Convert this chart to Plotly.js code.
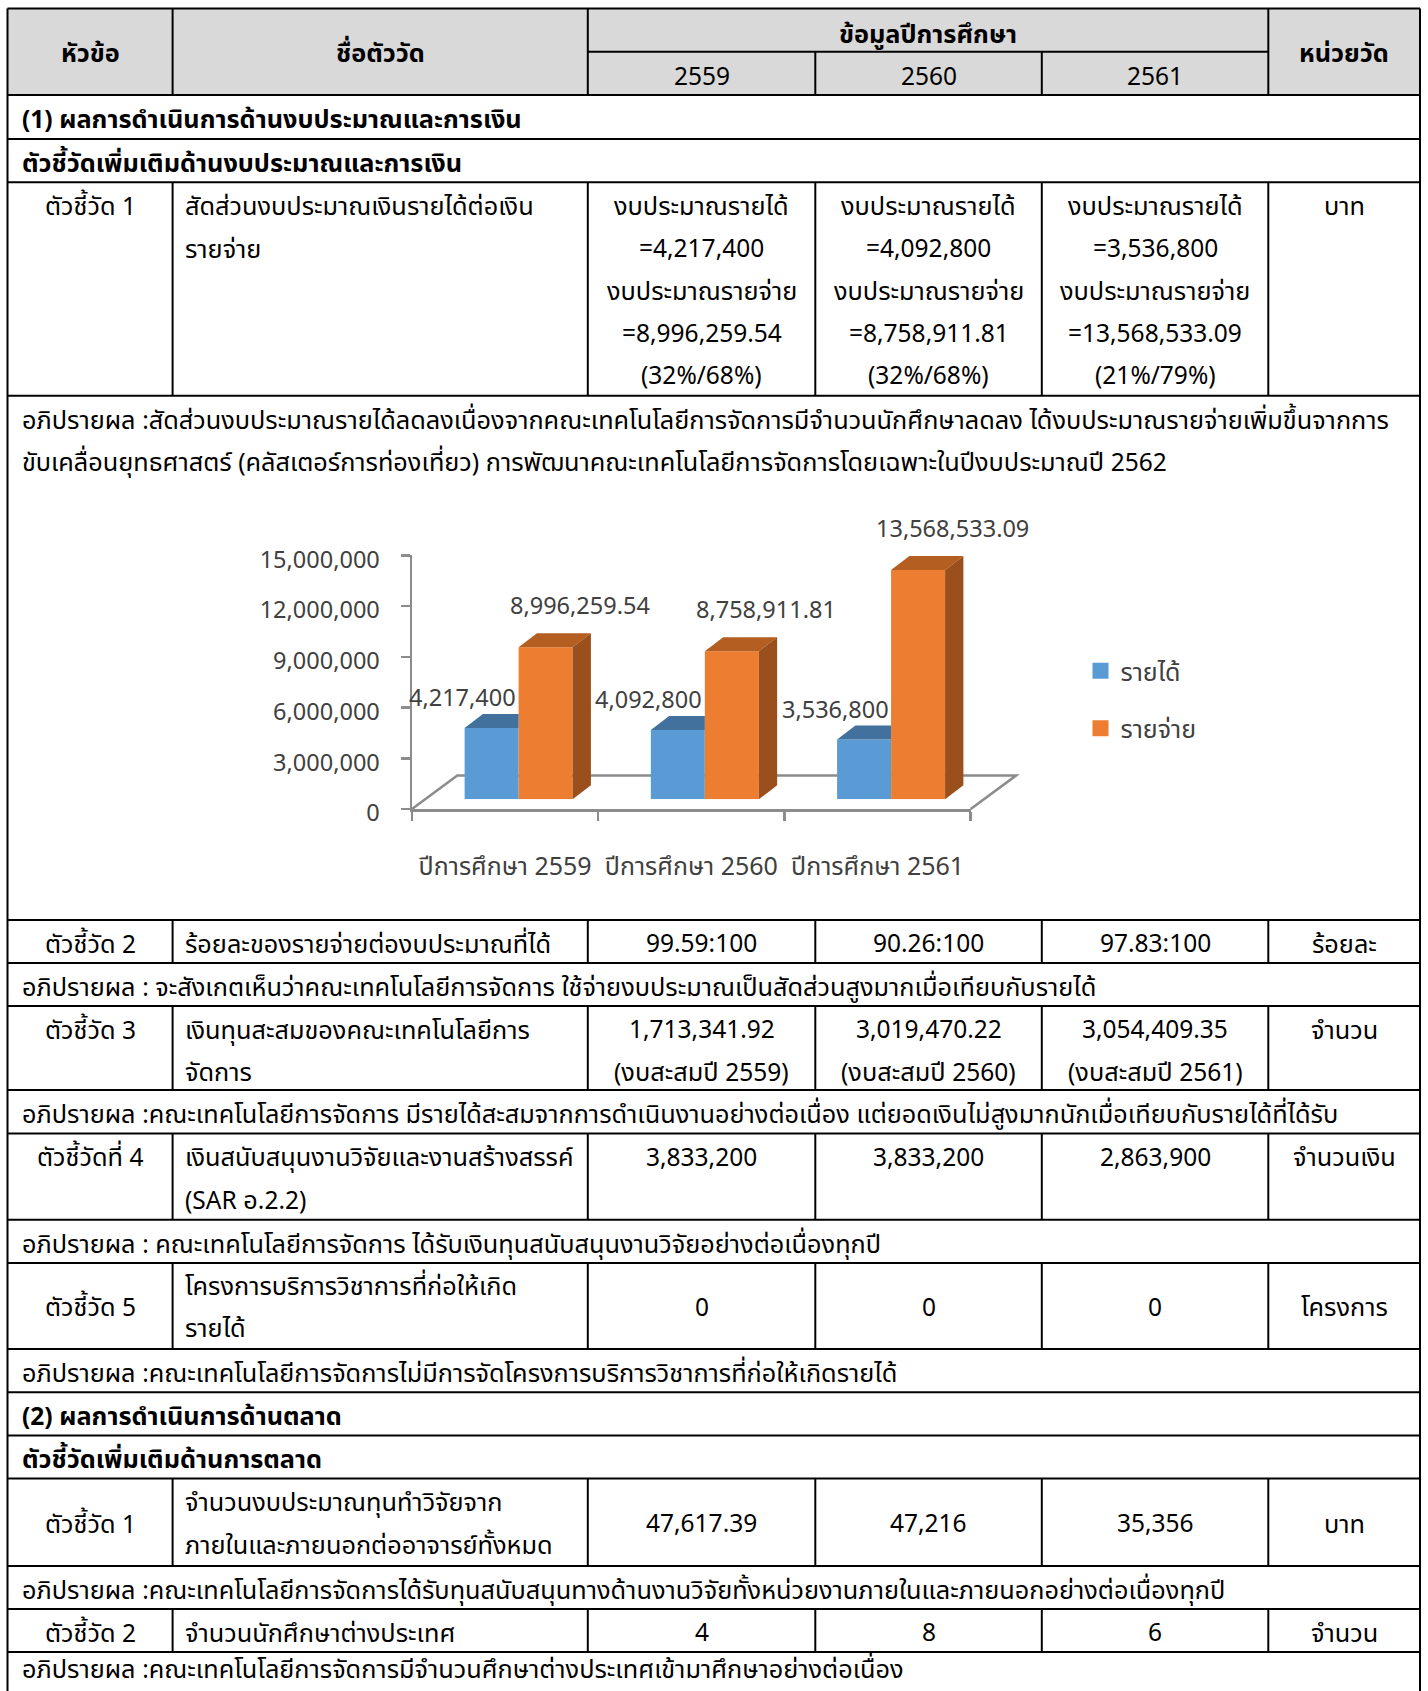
<!DOCTYPE html>
<html><head><meta charset="utf-8">
<script src="https://cdn.plot.ly/plotly-3.0.1.min.js"></script>
<style>html,body{margin:0;padding:0;background:#fff}#chart{width:1428px;height:1691px}</style>
</head><body><div id="chart"></div>
<script>
(function () {
// ================= DATA =================
const years = ['2559', '2560', '2561'];
const headerTopic = 'หัวข้อ';
const headerName = 'ชื่อตัววัด';
const headerYears = 'ข้อมูลปีการศึกษา';
const headerUnit = 'หน่วยวัด';

const section1Title = '(1) ผลการดำเนินการด้านงบประมาณและการเงิน';
const section1Sub = 'ตัวชี้วัดเพิ่มเติมด้านงบประมาณและการเงิน';
const section2Title = '(2) ผลการดำเนินการด้านตลาด';
const section2Sub = 'ตัวชี้วัดเพิ่มเติมด้านการตลาด';

const ind1Label = 'ตัวชี้วัด 1';
const ind1Name = ['สัดส่วนงบประมาณเงินรายได้ต่อเงิน', 'รายจ่าย'];
const ind1Values = [
  ['งบประมาณรายได้', '=4,217,400', 'งบประมาณรายจ่าย', '=8,996,259.54', '(32%/68%)'],
  ['งบประมาณรายได้', '=4,092,800', 'งบประมาณรายจ่าย', '=8,758,911.81', '(32%/68%)'],
  ['งบประมาณรายได้', '=3,536,800', 'งบประมาณรายจ่าย', '=13,568,533.09', '(21%/79%)']
];
const ind1Unit = 'บาท';
const disc1 = [
  'อภิปรายผล :สัดส่วนงบประมาณรายได้ลดลงเนื่องจากคณะเทคโนโลยีการจัดการมีจำนวนนักศึกษาลดลง ได้งบประมาณรายจ่ายเพิ่มขึ้นจากการ',
  'ขับเคลื่อนยุทธศาสตร์ (คลัสเตอร์การท่องเที่ยว) การพัฒนาคณะเทคโนโลยีการจัดการโดยเฉพาะในปีงบประมาณปี 2562'
];

const ind2Label = 'ตัวชี้วัด 2';
const ind2Name = ['ร้อยละของรายจ่ายต่องบประมาณที่ได้'];
const ind2Values = [['99.59:100'], ['90.26:100'], ['97.83:100']];
const ind2Unit = 'ร้อยละ';
const disc2 = ['อภิปรายผล : จะสังเกตเห็นว่าคณะเทคโนโลยีการจัดการ ใช้จ่ายงบประมาณเป็นสัดส่วนสูงมากเมื่อเทียบกับรายได้'];

const ind3Label = 'ตัวชี้วัด 3';
const ind3Name = ['เงินทุนสะสมของคณะเทคโนโลยีการ', 'จัดการ'];
const ind3Values = [['1,713,341.92', '(งบสะสมปี 2559)'], ['3,019,470.22', '(งบสะสมปี 2560)'], ['3,054,409.35', '(งบสะสมปี 2561)']];
const ind3Unit = 'จำนวน';
const disc3 = ['อภิปรายผล :คณะเทคโนโลยีการจัดการ มีรายได้สะสมจากการดำเนินงานอย่างต่อเนื่อง แต่ยอดเงินไม่สูงมากนักเมื่อเทียบกับรายได้ที่ได้รับ'];

const ind4Label = 'ตัวชี้วัดที่ 4';
const ind4Name = ['เงินสนับสนุนงานวิจัยและงานสร้างสรรค์', '(SAR อ.2.2)'];
const ind4Values = [['3,833,200'], ['3,833,200'], ['2,863,900']];
const ind4Unit = 'จำนวนเงิน';
const disc4 = ['อภิปรายผล : คณะเทคโนโลยีการจัดการ ได้รับเงินทุนสนับสนุนงานวิจัยอย่างต่อเนื่องทุกปี'];

const ind5Label = 'ตัวชี้วัด 5';
const ind5Name = ['โครงการบริการวิชาการที่ก่อให้เกิด', 'รายได้'];
const ind5Values = [['0'], ['0'], ['0']];
const ind5Unit = 'โครงการ';
const disc5 = ['อภิปรายผล :คณะเทคโนโลยีการจัดการไม่มีการจัดโครงการบริการวิชาการที่ก่อให้เกิดรายได้'];

const mkt1Label = 'ตัวชี้วัด 1';
const mkt1Name = ['จำนวนงบประมาณทุนทำวิจัยจาก', 'ภายในและภายนอกต่ออาจารย์ทั้งหมด'];
const mkt1Values = [['47,617.39'], ['47,216'], ['35,356']];
const mkt1Unit = 'บาท';
const disc6 = ['อภิปรายผล :คณะเทคโนโลยีการจัดการได้รับทุนสนับสนุนทางด้านงานวิจัยทั้งหน่วยงานภายในและภายนอกอย่างต่อเนื่องทุกปี'];

const mkt2Label = 'ตัวชี้วัด 2';
const mkt2Name = ['จำนวนนักศึกษาต่างประเทศ'];
const mkt2Values = [['4'], ['8'], ['6']];
const mkt2Unit = 'จำนวน';
const disc7 = ['อภิปรายผล :คณะเทคโนโลยีการจัดการมีจำนวนศึกษาต่างประเทศเข้ามาศึกษาอย่างต่อเนื่อง'];

// chart data
const chartCategories = ['ปีการศึกษา 2559', 'ปีการศึกษา 2560', 'ปีการศึกษา 2561'];
const seriesNames = ['รายได้', 'รายจ่าย'];
const incomeValues = [4217400, 4092800, 3536800];
const expenseValues = [8996259.54, 8758911.81, 13568533.09];
const yTickValues = [0, 3000000, 6000000, 9000000, 12000000, 15000000];

// ================= LAYOUT CONSTANTS =================
const W = 1428, H = 1691;
const FONT = '"Noto Sans Thai", "Noto Sans", sans-serif';
const FS = 25.3, FS_LAT = 24.5;
const XL = 7.5, XR = 1420, C1 = 172.6, C2 = 587.8, C3 = 815.3, C4 = 1041.8, C5 = 1268.3;
const TOP = 8.6, HDR_MID = 51.8, HDR_BOT = 94.9;
const PAD = 22.7, LH = 42.3, YOFF = 2.2;
const NAME_X = 183, FULL_X = 19.5;
const valCenters = [(C2 + C3) / 2, (C3 + C4) / 2, (C4 + C5) / 2];
const labelCenter = (XL + C1) / 2, unitCenter = (C5 + XR) / 2;

const shapes = [], ann = [];
const LINE = {color: '#000', width: 2};
function hline(y, x0, x1) { shapes.push({type: 'line', xref: 'x', yref: 'y', x0: x0 === undefined ? XL : x0, x1: x1 === undefined ? XR : x1, y0: y, y1: y, line: LINE, layer: 'above'}); }
function vline(x, y0, y1) { shapes.push({type: 'line', xref: 'x', yref: 'y', x0: x, x1: x, y0: y0, y1: y1, line: LINE, layer: 'above'}); }
function mixFont(t) { return t.replace(/[!-~]+/g, m => '<span style="font-size:' + FS_LAT + 'px">' + m + '</span>'); }
function txt(x, y, text, anchor, bold) {
  const body = mixFont(text);
  ann.push({xref: 'x', yref: 'y', x: x, y: y + YOFF, text: bold ? '<b>' + body + '</b>' : body, showarrow: false,
    xanchor: anchor, yanchor: 'middle', font: {family: FONT, size: FS, color: '#000'}});
}

// header
shapes.push({type: 'rect', xref: 'x', yref: 'y', x0: XL, x1: XR, y0: TOP, y1: HDR_BOT, fillcolor: '#d9d9d9', line: {width: 0}, layer: 'below'});
hline(TOP); hline(HDR_BOT);
hline(HDR_MID, C2, C5);
vline(C1, TOP, HDR_BOT); vline(C2, TOP, HDR_BOT); vline(C5, TOP, HDR_BOT);
vline(C3, HDR_MID, HDR_BOT); vline(C4, HDR_MID, HDR_BOT);
vline(XL, TOP, H + 5); vline(XR, TOP, H + 5);
txt(labelCenter, HDR_MID, headerTopic, 'center', true);
txt((C1 + C2) / 2, HDR_MID, headerName, 'center', true);
txt((C2 + C5) / 2, 32.4, headerYears, 'center', true);
years.forEach((y, i) => txt(valCenters[i], 75.5, y, 'center', false));
txt(unitCenter, HDR_MID, headerUnit, 'center', true);

function ind(label, name, values, unit) { return {label, name, values, unit}; }
const rowSpecs = [
  {kind: 'full', bottom: 139.1, lines: [section1Title], bold: true},
  {kind: 'full', bottom: 182.3, lines: [section1Sub], bold: true},
  {kind: 'ind', bottom: 395.8, data: ind(ind1Label, ind1Name, ind1Values, ind1Unit), valign: 'top'},
  {kind: 'full', bottom: 920, lines: disc1},
  {kind: 'ind', bottom: 963, data: ind(ind2Label, ind2Name, ind2Values, ind2Unit), valign: 'top'},
  {kind: 'full', bottom: 1006, lines: disc2},
  {kind: 'ind', bottom: 1090, data: ind(ind3Label, ind3Name, ind3Values, ind3Unit), valign: 'top'},
  {kind: 'full', bottom: 1133.5, lines: disc3},
  {kind: 'ind', bottom: 1219.8, data: ind(ind4Label, ind4Name, ind4Values, ind4Unit), valign: 'top'},
  {kind: 'full', bottom: 1263, lines: disc4},
  {kind: 'ind', bottom: 1349, data: ind(ind5Label, ind5Name, ind5Values, ind5Unit), valign: 'middle'},
  {kind: 'full', bottom: 1392.3, lines: disc5},
  {kind: 'full', bottom: 1435.5, lines: [section2Title], bold: true},
  {kind: 'full', bottom: 1478.6, lines: [section2Sub], bold: true},
  {kind: 'ind', bottom: 1566, data: ind(mkt1Label, mkt1Name, mkt1Values, mkt1Unit), valign: 'middle'},
  {kind: 'full', bottom: 1609, lines: disc6},
  {kind: 'ind', bottom: 1652, data: ind(mkt2Label, mkt2Name, mkt2Values, mkt2Unit), valign: 'top'},
  {kind: 'full', bottom: null, lines: disc7, pad: 15.5}
];

let rowTop = HDR_BOT;
rowSpecs.forEach(r => {
  const bottom = r.bottom === null ? H + 5 : r.bottom;
  if (r.bottom !== null) hline(bottom);
  const t0 = rowTop;
  const pad = r.pad === undefined ? PAD : r.pad;
  const lineY = (lines, i) => {
    if (r.valign === 'middle') { const c = (t0 + bottom) / 2; return c + (i - (lines.length - 1) / 2) * LH; }
    return t0 + pad + LH * i;
  };
  if (r.kind === 'full') {
    r.lines.forEach((t, i) => txt(FULL_X, t0 + pad + LH * i, t, 'left', r.bold));
  } else {
    [C1, C2, C3, C4, C5].forEach(x => vline(x, t0, bottom));
    const d = r.data;
    txt(labelCenter, lineY([d.label], 0), d.label, 'center');
    d.name.forEach((t, i) => txt(NAME_X, lineY(d.name, i), t, 'left'));
    d.values.forEach((col, j) => col.forEach((t, i) => txt(valCenters[j], lineY(col, i), t, 'center')));
    txt(unitCenter, lineY([d.unit], 0), d.unit, 'center');
  }
  rowTop = bottom;
});

// ================= CHART =================
const AX_X0 = 412, AX_X1 = 970.7, AX_Y0 = 809, AX_Y1 = 555.4;   // front axis pixels
const FLOOR_DX = 45.3, FLOOR_DY = 33.4;                          // floor depth (px)
const BAR_DX = 18.3, BAR_DY = 14;                                // bar depth (px)
const PLANE_DX = (FLOOR_DX - BAR_DX) / 2, PLANE_DY = (FLOOR_DY - BAR_DY) / 2;
const YMAX = 15000000;
const px = x => x / W, py = y => 1 - y / H;
const bargap = 0.42, bw = (1 - bargap) / 2;
const xPerPx = 3 / (AX_X1 - AX_X0), yPerPx = YMAX / (AX_Y0 - AX_Y1);
const ddx = BAR_DX * xPerPx, ddy = BAR_DY * yPerPx;
const AXIS_GRAY = '#8c8c8c';
const COLORS = {inc: '#5b9bd5', incTop: '#41719c', exp: '#ed7d31', expTop: '#b45e22', expSide: '#9b4f1d'};
const seriesColors = [COLORS.inc, COLORS.exp];
const TXT_GRAY = '#404040';
const NUM_FS = 23.5, CAT_FS = 25;

const xIdx = chartCategories.map((c, i) => i);

function facesTop(vals, centers, clipRight) {
  const xs = [], ys = [];
  vals.forEach((v, i) => {
    const L = centers[i] - bw / 2, R = centers[i] + bw / 2;
    if (clipRight) { xs.push(L, R, R, L + ddx, L, null); ys.push(v, v, v + ddy, v + ddy, v, null); }
    else { xs.push(L, R, R + ddx, L + ddx, L, null); ys.push(v, v, v + ddy, v + ddy, v, null); }
  });
  return {xs, ys};
}
function facesSide(vals, centers) {
  const xs = [], ys = [];
  vals.forEach((v, i) => {
    const R = centers[i] + bw / 2;
    xs.push(R, R, R + ddx, R + ddx, R, null); ys.push(0, v, v + ddy, ddy, 0, null);
  });
  return {xs, ys};
}
const incCenters = xIdx.map(i => i - bw / 2), expCenters = xIdx.map(i => i + bw / 2);
const incTop = facesTop(incomeValues, incCenters, true);
const expTop = facesTop(expenseValues, expCenters, false);
const expSide = facesSide(expenseValues, expCenters);

const faceTrace = (f, color) => ({type: 'scatter', x: f.xs, y: f.ys, xaxis: 'x3', yaxis: 'y3', mode: 'lines',
  fill: 'toself', fillcolor: color, line: {width: 0, color: color}, hoverinfo: 'skip', showlegend: false});

const fmtInt = new Intl.NumberFormat('en-US', {maximumFractionDigits: 0});
const fmt2 = new Intl.NumberFormat('en-US', {minimumFractionDigits: 2, maximumFractionDigits: 2});

const traces = [
  {type: 'scatter', x: [0, W], y: [0, H], xaxis: 'x', yaxis: 'y', mode: 'markers', marker: {opacity: 0}, hoverinfo: 'skip', showlegend: false},
  {type: 'scatter', x: chartCategories, y: [0, 0, 0], xaxis: 'x2', yaxis: 'y2', mode: 'markers', marker: {opacity: 0}, hoverinfo: 'skip', showlegend: false},
  {type: 'bar', name: seriesNames[0], x: xIdx, y: incomeValues, xaxis: 'x3', yaxis: 'y3', marker: {color: COLORS.inc}, legendgroup: 'a', showlegend: false},
  {type: 'bar', name: seriesNames[1], x: xIdx, y: expenseValues, xaxis: 'x3', yaxis: 'y3', marker: {color: COLORS.exp}, legendgroup: 'b', showlegend: false},
  faceTrace(incTop, COLORS.incTop),
  faceTrace(expTop, COLORS.expTop),
  faceTrace(expSide, COLORS.expSide)
];
// legend entries (square swatches) for the two series
seriesNames.forEach((n, k) => traces.push({type: 'scatter', name: n, x: [null], y: [null], xaxis: 'x3', yaxis: 'y3', mode: 'markers',
  marker: {symbol: 'square', size: 16, color: seriesColors[k], line: {width: 0}}, legendgroup: k === 0 ? 'a' : 'b', showlegend: true, hoverinfo: 'skip'}));

incomeValues.forEach((v, i) => ann.push({xref: 'x3', yref: 'y3', x: incCenters[i], y: v, text: fmtInt.format(v), showarrow: false,
  xanchor: 'center', yanchor: 'middle', xshift: -29, yshift: 29, font: {family: FONT, size: NUM_FS, color: TXT_GRAY}}));
expenseValues.forEach((v, i) => ann.push({xref: 'x3', yref: 'y3', x: expCenters[i], y: v, text: fmt2.format(v), showarrow: false,
  xanchor: 'center', yanchor: 'middle', xshift: 34, yshift: 40, font: {family: FONT, size: NUM_FS, color: TXT_GRAY}}));

const fl = [[AX_X0, AX_Y0], [AX_X0 + FLOOR_DX, AX_Y0 - FLOOR_DY], [AX_X1 + FLOOR_DX, AX_Y0 - FLOOR_DY], [AX_X1, AX_Y0]];
shapes.push({type: 'path', xref: 'paper', yref: 'paper', layer: 'below',
  path: 'M' + fl.map(p => px(p[0]) + ',' + py(p[1])).join(' L'), line: {color: AXIS_GRAY, width: 2.5}});

const layout = {
  width: W, height: H, margin: {l: 0, r: 0, t: 0, b: 0}, paper_bgcolor: '#fff', plot_bgcolor: 'rgba(0,0,0,0)',
  showlegend: true, barmode: 'group', bargap: bargap, bargroupgap: 0, hovermode: false,
  font: {family: FONT, size: FS, color: '#000'},
  xaxis: {range: [0, W], domain: [0, 1], visible: false, fixedrange: true},
  yaxis: {range: [H, 0], domain: [0, 1], visible: false, fixedrange: true},
  xaxis2: {type: 'category', categoryarray: chartCategories, range: [-0.5, 2.5], domain: [px(AX_X0), px(AX_X1)], anchor: 'y2',
    showline: true, linecolor: AXIS_GRAY, linewidth: 2.5, ticks: 'outside', tickson: 'boundaries', ticklen: 9, tickwidth: 2.5,
    tickcolor: AXIS_GRAY, showgrid: false, zeroline: false, ticklabelstandoff: 33, tickfont: {family: FONT, size: CAT_FS, color: TXT_GRAY}},
  yaxis2: {range: [0, YMAX], domain: [py(AX_Y0), py(AX_Y1)], anchor: 'x2', showline: true, linecolor: AXIS_GRAY, linewidth: 2.5,
    ticks: 'outside', ticklen: 9, tickwidth: 2.5, tickcolor: AXIS_GRAY, tickvals: yTickValues, tickformat: ',d', showgrid: false,
    zeroline: false, ticklabelstandoff: 16, ticklabelshift: 4, tickfont: {family: FONT, size: NUM_FS, color: TXT_GRAY}},
  xaxis3: {range: [-0.5, 2.5], domain: [px(AX_X0 + PLANE_DX), px(AX_X1 + PLANE_DX)], anchor: 'y3', visible: false},
  yaxis3: {range: [0, YMAX], domain: [py(AX_Y0 - PLANE_DY), py(AX_Y1 - PLANE_DY)], anchor: 'x3', visible: false},
  legend: {x: px(1080.5), y: py(648), xanchor: 'left', yanchor: 'top', bgcolor: 'rgba(0,0,0,0)', tracegroupgap: 22, itemwidth: 30,
    font: {family: FONT, size: CAT_FS, color: TXT_GRAY}},
  shapes: shapes, annotations: ann
};

Plotly.newPlot('chart', traces, layout, {staticPlot: true});
})();
</script></body></html>
